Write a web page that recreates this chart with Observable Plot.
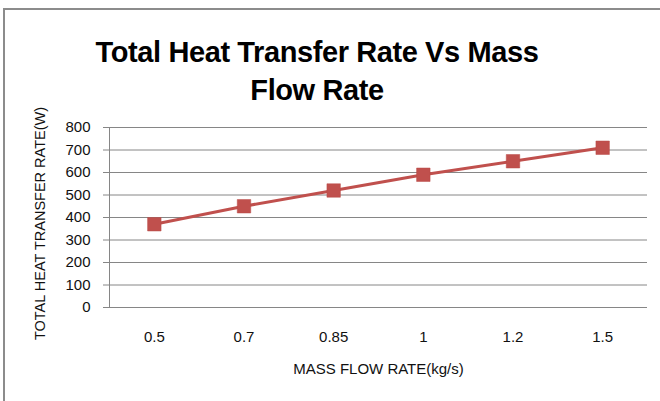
<!DOCTYPE html>
<html>
<head>
<meta charset="utf-8">
<script src="https://cdn.jsdelivr.net/npm/d3@7"></script>
<script src="https://cdn.jsdelivr.net/npm/@observablehq/plot@0.6"></script>
<style>
  html, body { margin: 0; padding: 0; background: #fff; }
  #wrap { position: relative; width: 660px; height: 401px; overflow: hidden; font-family: "Liberation Sans", Arial, sans-serif; }
  #frame { position: absolute; left: 3px; top: 8px; width: 700px; height: 500px; border-top: 2px solid #8c8c8c; border-left: 2px solid #8c8c8c; box-sizing: border-box; }
  #title { position: absolute; left: 0; top: 33px; width: 634px; text-align: center; font-weight: bold; font-size: 29px; line-height: 38px; letter-spacing: -0.4px; color: #000; z-index: 2; }
  #chart { position: absolute; left: 0; top: 0; z-index: 1; }
</style>
</head>
<body>
<div id="wrap">
  <div id="frame"></div>
  <div id="chart"></div>
  <div id="title">Total Heat Transfer Rate Vs Mass<br>Flow Rate</div>
</div>
<script>
const flowRates = ["0.5", "0.7", "0.85", "1", "1.2", "1.5"];
const heatRates = [370, 450, 520, 590, 650, 710];
const yTicks = [0, 100, 200, 300, 400, 500, 600, 700, 800];
const xTitle = "MASS FLOW RATE(kg/s)";
const yTitle = "TOTAL HEAT TRANSFER RATE(W)";

const data = flowRates.map((f, i) => ({i, flow: f, q: heatRates[i]}));
const idx = flowRates.map((_, i) => i);
const gridColor = "#868686";
const red = "#C0504D";

const chart = Plot.plot({
  width: 660,
  height: 401,
  marginLeft: 109,
  marginRight: 13,
  marginTop: 127,
  marginBottom: 94,
  style: {fontFamily: '"Liberation Sans", Arial, sans-serif', fontSize: "15px", background: "transparent", color: "#111"},
  x: {type: "linear", domain: [-0.5, flowRates.length - 0.5], axis: null},
  y: {domain: [0, 800], axis: null},
  marks: [
    Plot.gridY(yTicks, {stroke: gridColor, strokeOpacity: 1, strokeWidth: 1}),
    Plot.ruleX([-0.5], {y1: 0, y2: 800, stroke: gridColor, strokeWidth: 1}),
    Plot.axisY(yTicks, {tickSize: 6, tickPadding: 13, stroke: gridColor, fill: "#111", fontSize: 15, label: null}),
    Plot.axisX(idx, {tickSize: 0, tickPadding: 24, tickFormat: i => flowRates[i], fill: "#111", fontSize: 15, label: null}),
    Plot.text([xTitle], {frameAnchor: "bottom", dy: 66, fontSize: 15, fill: "#111"}),
    Plot.text([yTitle], {frameAnchor: "left", textAnchor: "middle", rotate: -90, dx: -69, dy: 6, fontSize: 14.5, fill: "#111"}),
    Plot.line(data, {x: "i", y: "q", stroke: red, strokeWidth: 3}),
    Plot.dot(data, {x: "i", y: "q", symbol: "square", r: 7.6, fill: red, stroke: "#b84a47", strokeWidth: 0.5})
  ]
});
document.getElementById("chart").appendChild(chart);
</script>
</body>
</html>
